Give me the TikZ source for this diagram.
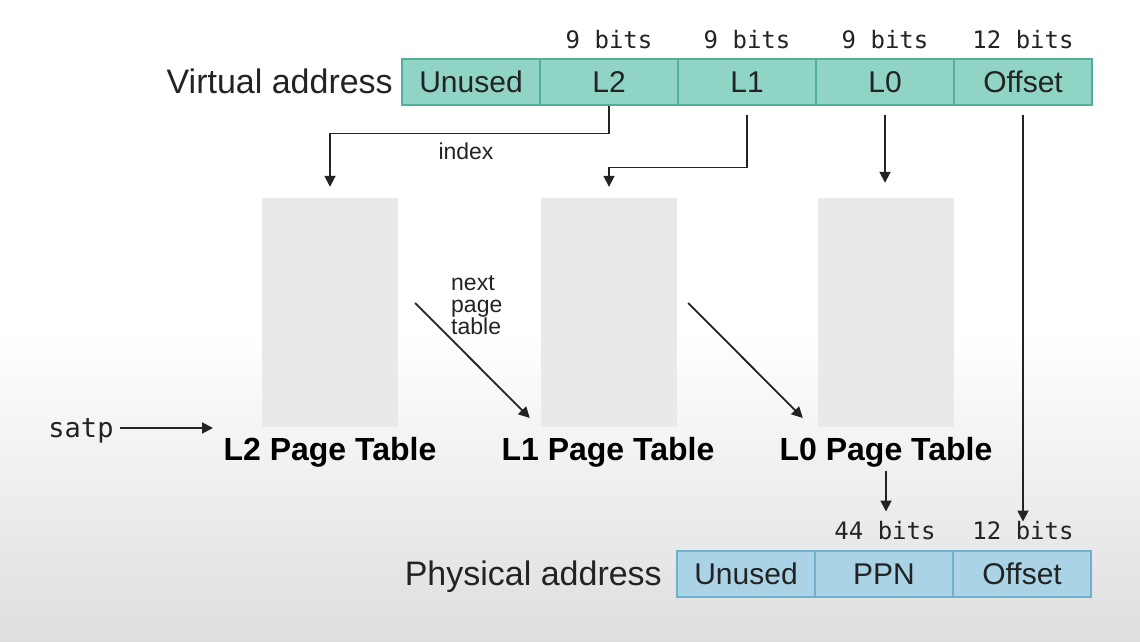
\documentclass[tikz,border=0pt]{standalone}
\usepackage{fontspec}
\setmainfont{Liberation Sans}
\setmonofont{DejaVu Sans Mono}
\usetikzlibrary{arrows.meta}
\definecolor{vafill}{RGB}{143,212,196}
\definecolor{vaedge}{RGB}{84,175,153}
\definecolor{pafill}{RGB}{170,212,229}
\definecolor{paedge}{RGB}{112,176,206}
\definecolor{ptfill}{RGB}{233,233,233}
\definecolor{ink}{RGB}{35,35,35}
\definecolor{bggray}{RGB}{222,222,222}

\begin{document}
\begin{tikzpicture}[x=1pt,y=1pt,
  vcell/.style={draw=vaedge,fill=vafill,line width=1.2pt,minimum width=138pt,
    minimum height=46pt,inner sep=0pt,font=\fontsize{30}{32}\selectfont,text=ink},
  pcell/.style={vcell,draw=paedge,fill=pafill},
  bits/.style={inner sep=0pt,font=\ttfamily\fontsize{24}{26}\selectfont,text=ink},
  ptab/.style={fill=ptfill,minimum width=136pt,minimum height=229pt,inner sep=0pt},
  ptlabel/.style={inner sep=0pt,font=\bfseries\fontsize{32}{34}\selectfont,text=black},
  big/.style={inner sep=0pt,font=\fontsize{34}{36}\selectfont,text=ink},
  small/.style={inner sep=0pt,font=\fontsize{23}{22}\selectfont,text=ink},
  arr/.style={-{Triangle[length=11pt,width=11pt]},draw=ink,line width=1.8pt}]
  \useasboundingbox (0,0) rectangle (1140,641);
  \fill[white] (0,0) rectangle (1140,641);
  \shade[top color=white,bottom color=bggray] (0,0) rectangle (1140,310);

  \node[big,anchor=base east] (vlab) at (393,547) {Virtual address};
  \node[vcell] (vUn) at (471,559) {Unused};
  \node[vcell] (vL2) at (609,559) {L2};
  \node[vcell] (vL1) at (747,559) {L1};
  \node[vcell] (vL0) at (885,559) {L0};
  \node[vcell] (vOf) at (1023,559) {Offset};
  \node[bits] (bL2) at (609,601) {9 bits};
  \node[bits] (bL1) at (747,601) {9 bits};
  \node[bits] (bL0) at (885,601) {9 bits};
  \node[bits] (bOf) at (1023,601) {12 bits};

  \node[ptab] (pt2) at (330,328.5) {};
  \node[ptab] (pt1) at (609,328.5) {};
  \node[ptab] (pt0) at (886,328.5) {};
  \node[ptlabel,anchor=base] (lab2) at (330,181) {L2 Page Table};
  \node[ptlabel,anchor=base] (lab1) at (608,181) {L1 Page Table};
  \node[ptlabel,anchor=base] (lab0) at (886,181) {L0 Page Table};

  \node[bits,font=\ttfamily\fontsize{27}{28}\selectfont,anchor=base] (satp) at (81,204) {satp};
  \coordinate (satpIn) at (213,213);
  \draw[arr,shorten <=6pt] (satp.east |- satpIn) -- (satpIn);

  \draw[arr,shorten >=11pt] (vL2.south) -- ++(0,-28) -| (pt2.north);
  \node[small,anchor=base] (idx) at (466,481) {index};
  \draw[arr,shorten <=9pt,shorten >=11pt] (vL1.south) -- ++(0,-62) -| (pt1.north);
  \draw[arr,shorten <=9pt,shorten >=15pt] (vL0.south) -- (vL0.south |- pt0.north);

  \node[small,align=left,anchor=north west] (nxt) at (451,366) {next\\page\\table};
  \draw[arr] ([xshift=17pt,yshift=9.5pt]pt2.east) -- ([xshift=-11pt,yshift=-105.5pt]pt1.west);
  \draw[arr] ([xshift=11pt,yshift=9.5pt]pt1.east) -- ([xshift=-15pt,yshift=-105.5pt]pt0.west);

  \node[big,anchor=base east] (plab) at (662,56) {Physical address};
  \node[pcell] (pUn) at (746,67) {Unused};
  \node[pcell] (pPN) at (884,67) {PPN};
  \node[pcell] (pOf) at (1022,67) {Offset};
  \node[bits] (b44) at (885,110) {44 bits};
  \node[bits] (b12) at (1023,110) {12 bits};

  \draw[arr,shorten <=4pt,shorten >=10pt] (lab0.south) -- (lab0.south |- b44.north);
  \draw[arr,shorten <=9pt] (vOf.south) -- (vOf.south |- b12.north);
\end{tikzpicture}
\end{document}
